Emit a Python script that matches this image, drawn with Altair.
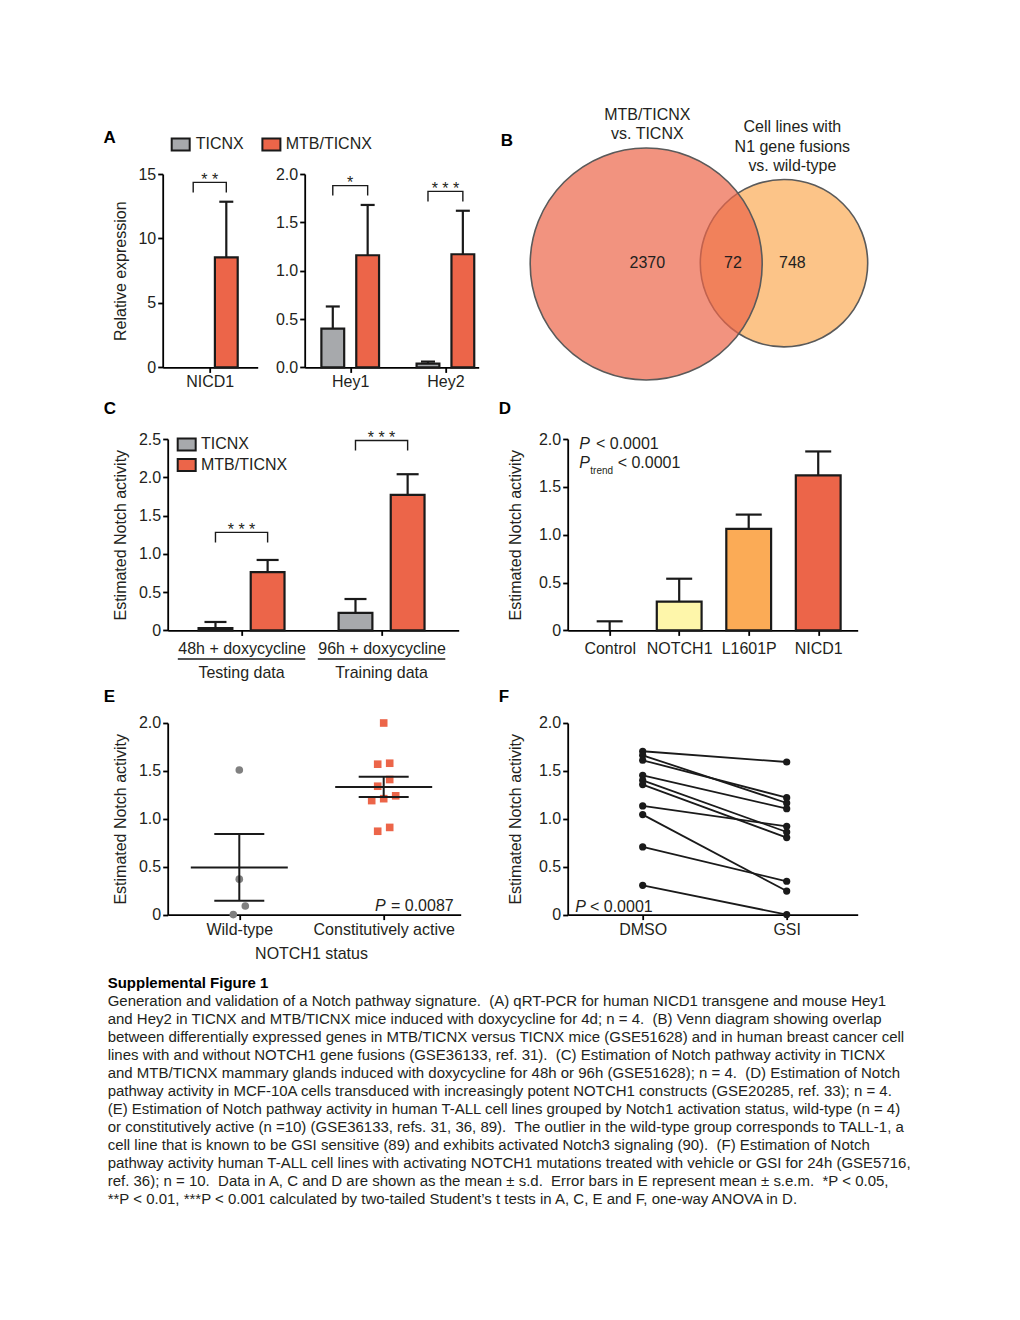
import json
import math
import numpy as np
import pandas as pd
import altair as alt

FONT = "Liberation Sans"
CAP_FONT = "Liberation Sans"
INK = "#231f20"
LINE = "#1a1a1a"
GRAY_FILL = "#a7a9ac"
RED_FILL = "#ec6549"
SW = 2.2

# ---------------- data ----------------
SERIES = ["TICNX", "MTB/TICNX"]

# Panel A (qRT-PCR)
A_genes = ["NICD1", "Hey1", "Hey2"]
A_ticnx_mean = [0.0, 0.40, 0.04]
A_ticnx_sd = [0.0, 0.23, 0.02]
A_mtb_mean = [8.53, 1.16, 1.17]
A_mtb_sd = [4.32, 0.52, 0.45]
A_bracket = [14.35, 1.88, 1.82]
A_stars = ["**", "*", "***"]

# Panel B (Venn)
B_sets = [["MTB/TICNX", "vs. TICNX"], ["Cell lines with", "N1 gene fusions", "vs. wild-type"]]
B_counts = [2370, 72, 748]  # first only, overlap, second only
B_colors = ["#ec6549", "#fbab56"]

# Panel C
C_groups = ["48h + doxycycline", "96h + doxycycline"]
C_sets = ["Testing data", "Training data"]
C_ticnx_mean = [0.03, 0.23]
C_ticnx_sd = [0.08, 0.18]
C_mtb_mean = [0.76, 1.77]
C_mtb_sd = [0.16, 0.27]
C_bracket = [1.28, 2.48]
C_stars = ["***", "***"]

# Panel D
D_constructs = ["Control", "NOTCH1", "L1601P", "NICD1"]
D_mean = [0.0, 0.30, 1.06, 1.62]
D_sd = [0.095, 0.24, 0.15, 0.25]
D_colors = ["#ffffff", "#fef6aa", "#fbab56", "#ec6549"]

# Panel E
E_groups = ["Wild-type", "Constitutively active"]
E_wild = [1.51, 0.37, 0.09, 0.0]
E_active = [2.0, 1.58, 1.57, 1.41, 1.34, 1.21, 1.19, 1.24, 0.87, 0.91]

# Panel F
F_conditions = ["DMSO", "GSI"]
F_dmso = [1.705, 1.663, 1.611, 1.454, 1.402, 1.357, 1.134, 1.044, 0.706, 0.306]
F_gsi = [1.593, 1.165, 1.221, 1.106, 0.862, 0.804, 0.922, 0.246, 0.348, 0.0]

CAPTION_TITLE = "Supplemental Figure 1"
CAPTION_LINES = [
    "Generation and validation of a Notch pathway signature.  (A) qRT-PCR for human NICD1 transgene and mouse Hey1",
    "and Hey2 in TICNX and MTB/TICNX mice induced with doxycycline for 4d; n = 4.  (B) Venn diagram showing overlap",
    "between differentially expressed genes in MTB/TICNX versus TICNX mice (GSE51628) and in human breast cancer cell",
    "lines with and without NOTCH1 gene fusions (GSE36133, ref. 31).  (C) Estimation of Notch pathway activity in TICNX",
    "and MTB/TICNX mammary glands induced with doxycycline for 48h or 96h (GSE51628); n = 4.  (D) Estimation of Notch",
    "pathway activity in MCF-10A cells transduced with increasingly potent NOTCH1 constructs (GSE20285, ref. 33); n = 4.",
    "(E) Estimation of Notch pathway activity in human T-ALL cell lines grouped by Notch1 activation status, wild-type (n = 4)",
    "or constitutively active (n =10) (GSE36133, refs. 31, 36, 89).  The outlier in the wild-type group corresponds to TALL-1, a",
    "cell line that is known to be GSI sensitive (89) and exhibits activated Notch3 signaling (90).  (F) Estimation of Notch",
    "pathway activity human T-ALL cell lines with activating NOTCH1 mutations treated with vehicle or GSI for 24h (GSE5716,",
    "ref. 36); n = 10.  Data in A, C and D are shown as the mean \u00b1 s.d.  Error bars in E represent mean \u00b1 s.e.m.  *P < 0.05,",
    "**P < 0.01, ***P < 0.001 calculated by two-tailed Student\u2019s t tests in A, C, E and F, one-way ANOVA in D.",
]

# ---------------- layout ----------------
H1, H2, H3 = 193.4, 191.4, 191.6
ZERO_EXPR = "datum.value == 0 ? '0' : format(datum.value, '.1f')"


def one(**kw):
    return pd.DataFrame([kw])


def text_at(txt, x, y, size=16, weight="normal", style="normal", align="left",
            baseline="middle", color=INK, font=FONT):
    return alt.Chart(one(t=txt)).mark_text(
        font=font, fontSize=size, fontWeight=weight, fontStyle=style,
        align=align, baseline=baseline, color=color
    ).encode(x=alt.value(x), y=alt.value(y), text="t:N")


def letter(ch, x, y):
    return text_at(ch, x, y, size=17, weight="bold", color="black")


def legend_entry(label, color, rx, ry, tx):
    box = alt.Chart(one(s=label)).mark_rect(fill=color, stroke=LINE, strokeWidth=2).encode(
        x=alt.value(rx), x2=alt.value(rx + 18), y=alt.value(ry - 6), y2=alt.value(ry + 6))
    return [box, text_at(label, tx, ry)]


def cat_scale(first_px, step_px, width):
    lo = -first_px / step_px
    return alt.Scale(domain=[lo, lo + width / step_px], nice=False, zero=False)


def cat_axis(cats, pad, title=None, **kw):
    return alt.Axis(values=list(range(len(cats))),
                    labelExpr=json.dumps(cats) + "[datum.value]",
                    title=title, labelPadding=pad, **kw)


def val_axis(values, title, title_x, expr=ZERO_EXPR):
    kw = dict(values=values, labelExpr=expr, title=title)
    if title:
        kw.update(titleX=title_x, titleBaseline="alphabetic")
    return alt.Axis(**kw)


def grouped_layers(cats, t_mean, t_sd, m_mean, m_sd, brackets, stars, *, width, height,
                   ymax, yvalues, yexpr, ytitle, title_x, first_px, step_px, off_px,
                   bar_px, cap_px, drop_px, label_pad):
    xs = cat_scale(first_px, step_px, width)
    ys = alt.Scale(domain=[0, ymax], nice=False)
    xa = cat_axis(cats, label_pad)
    ya = val_axis(yvalues, ytitle, title_x, yexpr)
    X = lambda f: alt.X(f, type="quantitative", scale=xs, axis=xa)
    Y = lambda f: alt.Y(f, type="quantitative", scale=ys, axis=ya)
    ux = 1.0 / step_px
    uy = ymax / height
    rows = []
    for i, c in enumerate(cats):
        for s, mu, sd, sign in ((SERIES[0], t_mean[i], t_sd[i], -1),
                                (SERIES[1], m_mean[i], m_sd[i], 1)):
            rows.append(dict(cat=c, series=s, x=i + sign * off_px * ux, mean=mu, top=mu + sd))
    df = pd.DataFrame(rows)
    bars = alt.Chart(df[df["mean"] > 0]).mark_bar(
        orient="vertical", size=bar_px - SW, stroke=LINE, strokeWidth=SW, opacity=1
    ).encode(x=X("x"), y=Y("mean"),
             fill=alt.Fill("series:N", scale=alt.Scale(domain=SERIES, range=[GRAY_FILL, RED_FILL]),
                           legend=None))
    ed = df[df["top"] > df["mean"]]
    errs = alt.Chart(ed).mark_rule(color=LINE, strokeWidth=SW).encode(
        x=X("x"), y=Y("mean"), y2=alt.Y2("top"))
    caps = alt.Chart(ed).mark_tick(orient="horizontal", size=cap_px, thickness=SW,
                                   color=LINE, opacity=1).encode(x=X("x"), y=Y("top"))
    br = []
    for i, c in enumerate(cats):
        xl, xr = i - off_px * ux, i + off_px * ux
        b, d = brackets[i], drop_px * uy
        for k, (xx, yy) in enumerate([(xl, b - d), (xl, b), (xr, b), (xr, b - d)]):
            br.append(dict(cat=c, k=k, x=xx, y=yy))
    brk = alt.Chart(pd.DataFrame(br)).mark_line(color=LINE, strokeWidth=1.4).encode(
        x=X("x"), y=Y("y"), detail="cat:N", order="k:Q")
    st = pd.DataFrame(dict(x=list(range(len(cats))), y=brackets, s=[" ".join(s) for s in stars]))
    star_l = alt.Chart(st).mark_text(font=FONT, fontSize=16, baseline="alphabetic", dy=2.5,
                                     color=INK).encode(x=X("x"), y=Y("y"), text="s:N")
    return [bars, errs, caps, brk, star_l], X, Y


# ---- Panel A ----
a1_layers, _, _ = grouped_layers(
    A_genes[:1], A_ticnx_mean[:1], A_ticnx_sd[:1], A_mtb_mean[:1], A_mtb_sd[:1],
    A_bracket[:1], A_stars[:1], width=95, height=H1, ymax=15, yvalues=[0, 5, 10, 15],
    yexpr="format(datum.value, 'd')", ytitle="Relative expression", title_x=-37.5,
    first_px=47, step_px=101, off_px=18.5, bar_px=25, cap_px=14, drop_px=10, label_pad=1)
A1 = alt.layer(
    *a1_layers,
    letter("A", -59.3, -36.3),
    *legend_entry(SERIES[0], GRAY_FILL, 9, -29.6, 33),
    *legend_entry(SERIES[1], RED_FILL, 99.7, -29.6, 123),
).properties(width=95, height=H1)

a2_layers, _, _ = grouped_layers(
    A_genes[1:], A_ticnx_mean[1:], A_ticnx_sd[1:], A_mtb_mean[1:], A_mtb_sd[1:],
    A_bracket[1:], A_stars[1:], width=174, height=H1, ymax=2.0,
    yvalues=[0, 0.5, 1.0, 1.5, 2.0], yexpr="format(datum.value, '.1f')", ytitle=None,
    title_x=0, first_px=43, step_px=101, off_px=18.5, bar_px=25, cap_px=14, drop_px=10,
    label_pad=1)
A2 = alt.layer(*a2_layers).properties(width=174, height=H1)

# ---- Panel B (Venn) ----
PPU = 116.0
BW = 345
VENN_LAYOUT = {
    "circles": [(0.0, 0.0, 1.0), (1.188, 0.007, 0.7216)],
    "count_pos": [(0.01, 0.009), (0.748, 0.009), (1.26, 0.009)],
    "title_pos": [(0.01, 1.287), (1.26, 1.178)],
    "line_step": 19.5 / PPU,
}
bxs = alt.Scale(domain=[-120.5 / PPU, (BW - 120.5) / PPU], nice=False, zero=False)
bys = alt.Scale(domain=[-(H1 - 90) / PPU, 90 / PPU], nice=False, zero=False)
BX = lambda f: alt.X(f, type="quantitative", scale=bxs, axis=None)
BY = lambda f: alt.Y(f, type="quantitative", scale=bys, axis=None)

# Vega circle symbols have diameter sqrt(size)
circ = pd.DataFrame([
    dict(name=i, cx=c[0], cy=c[1], area=(2 * c[2] * PPU) ** 2, fill=B_colors[i])
    for i, c in enumerate(VENN_LAYOUT["circles"])
]).iloc[::-1]  # smaller set drawn first, larger on top
venn_circles = alt.Chart(circ).mark_circle(
    fillOpacity=0.7, opacity=1, stroke="#5a5a5a", strokeWidth=1.6, strokeOpacity=1
).encode(x=BX("cx"), y=BY("cy"), size=alt.Size("area:Q", scale=None),
         fill=alt.Fill("fill:N", scale=None), order=alt.Order("name:Q", sort="descending"))
cnt = pd.DataFrame([dict(x=p[0], y=p[1], t=str(n)) for p, n in zip(VENN_LAYOUT["count_pos"], B_counts)])
venn_counts = alt.Chart(cnt).mark_text(font=FONT, fontSize=16, color=INK, baseline="middle").encode(
    x=BX("x"), y=BY("y"), text="t:N")
ttl = []
for (px, py), lines in zip(VENN_LAYOUT["title_pos"], B_sets):
    for j, ln in enumerate(lines):
        ttl.append(dict(x=px, y=py - j * VENN_LAYOUT["line_step"], t=ln))
venn_titles = alt.Chart(pd.DataFrame(ttl)).mark_text(font=FONT, fontSize=16, color=INK,
                                                     baseline="middle").encode(
    x=BX("x"), y=BY("y"), text="t:N")
B = alt.layer(venn_circles, venn_counts, venn_titles, letter("B", -25, -33.3)).properties(
    width=BW, height=H1)

# ---- Panel C ----
c_layers, CX, CY = grouped_layers(
    C_groups, C_ticnx_mean, C_ticnx_sd, C_mtb_mean, C_mtb_sd, C_bracket, C_stars,
    width=291, height=H2, ymax=2.5, yvalues=[0, 0.5, 1.0, 1.5, 2.0, 2.5], yexpr=ZERO_EXPR,
    ytitle="Estimated Notch activity", title_x=-42.2, first_px=71.3, step_px=145, off_px=27,
    bar_px=36, cap_px=22, drop_px=10, label_pad=5)
half = 66.0 / 145
under = pd.DataFrame(dict(x1=[i - half for i in range(len(C_groups))],
                          x2=[i + half for i in range(len(C_groups))],
                          x=list(range(len(C_groups))), s=C_sets))
c_under = alt.Chart(under).mark_rule(color=LINE, strokeWidth=1.5).encode(
    x=CX("x1"), x2=alt.X2("x2"), y=alt.value(H2 + 28.6))
c_sets = alt.Chart(under).mark_text(font=FONT, fontSize=16, color=INK, baseline="middle").encode(
    x=CX("x"), y=alt.value(H2 + 42.6), text="s:N")
C = alt.layer(
    *c_layers, c_under, c_sets,
    letter("C", -64, -30.3),
    *legend_entry(SERIES[0], GRAY_FILL, 10, 5.4, 33.3),
    *legend_entry(SERIES[1], RED_FILL, 10, 26, 33.3),
).properties(width=291, height=H2)

# ---- Panel D ----
DW = 290
dxs = cat_scale(38.3, 72, DW)
dys = alt.Scale(domain=[0, 2.0], nice=False)
dxa = cat_axis(D_constructs, 5)
dya = val_axis([0, 0.5, 1.0, 1.5, 2.0], "Estimated Notch activity", -47.2)
DX = lambda f: alt.X(f, type="quantitative", scale=dxs, axis=dxa)
DY = lambda f: alt.Y(f, type="quantitative", scale=dys, axis=dya)
ddf = pd.DataFrame(dict(x=list(range(len(D_constructs))), c=D_constructs, mean=D_mean,
                        top=[m + s for m, s in zip(D_mean, D_sd)], fill=D_colors))
d_bars = alt.Chart(ddf[ddf["mean"] > 0]).mark_bar(
    orient="vertical", size=47 - SW, stroke=LINE, strokeWidth=SW, opacity=1
).encode(x=DX("x"), y=DY("mean"), fill=alt.Fill("fill:N", scale=None))
d_err = alt.Chart(ddf).mark_rule(color=LINE, strokeWidth=SW).encode(
    x=DX("x"), y=DY("mean"), y2=alt.Y2("top"))
d_cap = alt.Chart(ddf).mark_tick(orient="horizontal", size=26, thickness=SW, color=LINE,
                                 opacity=1).encode(x=DX("x"), y=DY("top"))
D = alt.layer(
    d_bars, d_err, d_cap,
    letter("D", -69, -30.3),
    text_at("P", 11.6, 5, style="italic"),
    text_at("< 0.0001", 28.3, 5),
    text_at("P", 11.6, 24, style="italic"),
    text_at("trend", 22.6, 32.4, size=10),
    text_at("< 0.0001", 50, 24),
).properties(width=DW, height=H2)

# ---- Panel E ----
EW = 293
exs = cat_scale(71.6, 144.4, EW)
eys = alt.Scale(domain=[0, 2.0], nice=False)
exa = cat_axis(E_groups, 2, title="NOTCH1 status", titleX=143.3, titleY=39,
               titleBaseline="middle", titleAlign="center")
eya = val_axis([0, 0.5, 1.0, 1.5, 2.0], "Estimated Notch activity", -42.2)
EX = lambda f: alt.X(f, type="quantitative", scale=exs, axis=exa)
EY = lambda f: alt.Y(f, type="quantitative", scale=eys, axis=eya)


def beeswarm(values, spacing_px, thresh):
    order = sorted(range(len(values)), key=lambda i: -values[i])
    clusters = []
    for i in order:
        if clusters and values[clusters[-1][0]] - values[i] <= thresh:
            clusters[-1].append(i)
        else:
            clusters.append([i])
    offs = [0.0] * len(values)
    for cl in clusters:
        cl = sorted(cl, key=lambda i: values[i])
        n = len(cl)
        for j, i in enumerate(cl):
            offs[i] = (j - (n - 1) / 2) * spacing_px
    return offs


pts = []
summ = []
for gi, vals in enumerate([E_wild, E_active]):
    offs = beeswarm(vals, 12, 0.1)
    for v, o in zip(vals, offs):
        pts.append(dict(g=gi, x=gi + o / 144.4, v=v))
    m = float(np.mean(vals))
    se = float(np.std(vals, ddof=1) / math.sqrt(len(vals)))
    summ.append(dict(x=gi, mean=m, lo=m - se, hi=m + se))
pdf = pd.DataFrame(pts)
sdf = pd.DataFrame(summ)
e_wild = alt.Chart(pdf[pdf["g"] == 0]).mark_circle(size=58, color="#808080", opacity=1).encode(
    x=EX("x"), y=EY("v"))
e_act = alt.Chart(pdf[pdf["g"] == 1]).mark_square(size=58, color=RED_FILL, opacity=1).encode(
    x=EX("x"), y=EY("v"))
e_mean = alt.Chart(sdf).mark_tick(orient="horizontal", size=97, thickness=2, color=LINE,
                                  opacity=1).encode(x=EX("x"), y=EY("mean"))
e_sem = alt.Chart(sdf).mark_rule(color=LINE, strokeWidth=2).encode(
    x=EX("x"), y=EY("lo"), y2=alt.Y2("hi"))
e_lo = alt.Chart(sdf).mark_tick(orient="horizontal", size=50, thickness=2, color=LINE,
                                opacity=1).encode(x=EX("x"), y=EY("lo"))
e_hi = alt.Chart(sdf).mark_tick(orient="horizontal", size=50, thickness=2, color=LINE,
                                opacity=1).encode(x=EX("x"), y=EY("hi"))
E = alt.layer(
    e_wild, e_act, e_mean, e_sem, e_lo, e_hi,
    letter("E", -64, -25.7),
    text_at("P", 207.3, 183.3, style="italic"),
    text_at("= 0.0087", 223.3, 183.3),
).properties(width=EW, height=H3)

# ---- Panel F ----
FW = 290
fxs = cat_scale(75, 144, FW)
fys = alt.Scale(domain=[0, 2.0], nice=False)
fxa = cat_axis(F_conditions, 2)
fya = val_axis([0, 0.5, 1.0, 1.5, 2.0], "Estimated Notch activity", -47.2)
FX = lambda f: alt.X(f, type="quantitative", scale=fxs, axis=fxa)
FY = lambda f: alt.Y(f, type="quantitative", scale=fys, axis=fya)
fdf = pd.DataFrame(
    [dict(pair=k, x=0, v=a) for k, a in enumerate(F_dmso)]
    + [dict(pair=k, x=1, v=b) for k, b in enumerate(F_gsi)])
f_lines = alt.Chart(fdf).mark_line(color=LINE, strokeWidth=1.8).encode(
    x=FX("x"), y=FY("v"), detail="pair:N")
f_pts = alt.Chart(fdf).mark_circle(size=52, color=LINE, opacity=1).encode(x=FX("x"), y=FY("v"))
F = alt.layer(
    f_lines, f_pts,
    letter("F", -69, -25.7),
    text_at("P", 7.6, 184, style="italic"),
    text_at("< 0.0001", 22.3, 184),
).properties(width=FW, height=H3)

# ---- caption ----
CAP_SIZE = 15
cap_lines = [ln.replace("  ", " \u00a0") for ln in CAPTION_LINES]
cap_df = pd.DataFrame(dict(i=list(range(len(cap_lines))), line=cap_lines))
caption = alt.layer(
    text_at(CAPTION_TITLE, -55, 12, size=CAP_SIZE, weight="bold", color="black", font=CAP_FONT),
    alt.Chart(cap_df).mark_text(font=CAP_FONT, fontSize=CAP_SIZE, align="left", baseline="middle",
                                color=INK).encode(
        x=alt.value(-55),
        y=alt.Y("i:Q", scale=alt.Scale(domain=[0, len(cap_lines) - 1],
                                       range=[30, 30 + 18 * (len(cap_lines) - 1)]),
                axis=None),
        text="line:N"),
).properties(width=700, height=240)


def spacer(w, h):
    return alt.Chart(one(v=0)).mark_point(opacity=0, size=1).encode(
        x=alt.value(0), y=alt.value(0)).properties(width=w, height=h)


# rows are aligned on their origins; rows 2/3 start 4.7px right of row 1
row1 = alt.hconcat(A1, A2, B, spacing=47, bounds="flush")
row2 = alt.hconcat(spacer(4.7, H2), C, spacer(108.7, H2), D, spacing=0, bounds="flush")
row3 = alt.hconcat(spacer(4.7, H3), E, spacer(107, H3), F, spacing=0, bounds="flush")

chart = alt.vconcat(
    row1, spacer(1, 7.8), row2, spacer(1, 5.2), row3, spacer(1, 7.7), caption,
    spacing=0,
).properties(
    padding={"left": 94.7, "top": 98, "right": 10, "bottom": 10}
).configure_axis(
    labelFont=FONT, labelFontSize=16, labelColor=INK, titleFont=FONT, titleFontSize=16,
    titleFontWeight="normal", titleColor=INK, domainColor="black", tickColor="black",
    domainWidth=1.8, tickWidth=1.8, tickSize=5, labelPadding=2, grid=False,
    labelFlush=False, labelOverlap=False, labelBound=False
).configure_view(stroke=None)

chart.save("out.html", embed_options={"renderer": "svg", "actions": False})
